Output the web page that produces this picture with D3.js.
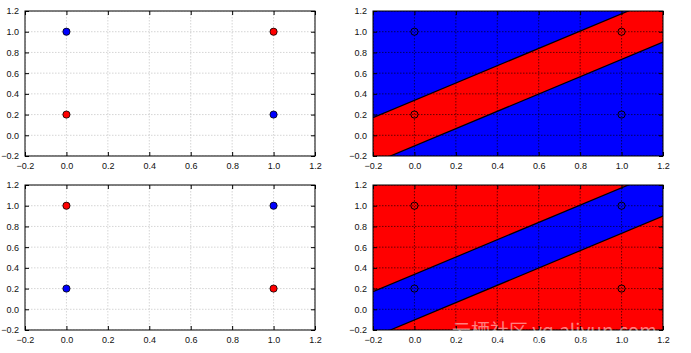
<!DOCTYPE html>
<html>
<head>
<meta charset="utf-8">
<script src="https://cdn.jsdelivr.net/npm/d3@7"></script>
<style>
  body { margin: 0; background: #fff; }
  svg { display: block; font-family: "DejaVu Sans", sans-serif; }
  .tick text { font-size: 9px; fill: #111; }
</style>
</head>
<body>
<svg width="691" height="353"></svg>
<script>
(() => {
    // points (x, y) and their class for each row
    const pointX = [0, 0, 1, 1];
    const pointY = [1.0, 0.2, 1.0, 0.2];
    const classesTop = ['blue', 'red', 'red', 'blue'];
    const classesBottom = ['red', 'blue', 'blue', 'red'];
    const tickValues = [-0.2, 0.0, 0.2, 0.4, 0.6, 0.8, 1.0, 1.2];
    // decision boundary lines y = slope * x + intercept
    const boundarySlope = [0.836, 0.836];
    const boundaryIntercept = [0.337, -0.103];
    const bandColorTop = ['blue', 'red'];     // [outside, inside]
    const bandColorBottom = ['red', 'blue'];

    const svg = d3.select("svg");
    const panels = [
      {left: 25, top: 11, cls: classesTop, band: null},
      {left: 373, top: 11, cls: null, band: bandColorTop},
      {left: 25, top: 185, cls: classesBottom, band: null},
      {left: 373, top: 185, cls: null, band: bandColorBottom}
    ];
    const w = 290, h = 145;

    panels.forEach((p, i) => {
      const x = d3.scaleLinear().domain([-0.2, 1.2]).range([0, w]);
      const y = d3.scaleLinear().domain([-0.2, 1.2]).range([h, 0]);
      const g = svg.append("g").attr("transform", "translate(" + p.left + "," + p.top + ")");
      const clipId = "clip" + i;
      g.append("clipPath").attr("id", clipId).append("rect").attr("width", w).attr("height", h);

      if (p.band) {
        g.append("rect").attr("width", w).attr("height", h).attr("fill", p.band[0]);
        const x0 = -0.2, x1 = 1.2;
        const line = (k, xv) => boundarySlope[k] * xv + boundaryIntercept[k];
        const poly = [[x0, line(0, x0)], [x1, line(0, x1)], [x1, line(1, x1)], [x0, line(1, x0)]];
        g.append("path")
          .attr("clip-path", "url(#" + clipId + ")")
          .attr("d", "M" + poly.map(d => x(d[0]) + "," + y(d[1])).join("L") + "Z")
          .attr("fill", p.band[1]);
        [0, 1].forEach(k => {
          g.append("line")
            .attr("clip-path", "url(#" + clipId + ")")
            .attr("x1", x(x0)).attr("y1", y(line(k, x0)))
            .attr("x2", x(x1)).attr("y2", y(line(k, x1)))
            .attr("stroke", "#000").attr("stroke-width", 1.2);
        });
      }

      // grid
      const gridColor = p.band ? "#000" : "#b8b8b8";
      const grid = g.append("g").attr("clip-path", "url(#" + clipId + ")");
      tickValues.forEach(t => {
        grid.append("line").attr("x1", x(t)).attr("x2", x(t)).attr("y1", 0).attr("y2", h)
          .attr("stroke", gridColor).attr("stroke-width", 0.6).attr("stroke-dasharray", "1.5,1.5");
        grid.append("line").attr("y1", y(t)).attr("y2", y(t)).attr("x1", 0).attr("x2", w)
          .attr("stroke", gridColor).attr("stroke-width", 0.6).attr("stroke-dasharray", "1.5,1.5");
      });

      // points
      g.selectAll(".pt")
        .data(pointX.map((d, j) => ({x: d, y: pointY[j], c: p.cls ? p.cls[j] : "none"})))
        .enter().append("circle")
          .attr("class", "pt")
          .attr("cx", d => x(d.x))
          .attr("cy", d => y(d.y))
          .attr("r", 3.6)
          .attr("fill", d => d.c)
          .attr("stroke", "#000")
          .attr("stroke-width", p.cls ? 0.8 : 1);

      // axes with inward ticks
      const fmt = d3.format(".1f");
      const fmtMinus = v => fmt(v).replace("-", "\u2212");
      g.append("g").attr("transform", "translate(0," + h + ")")
        .call(d3.axisBottom(x).tickValues(tickValues).tickFormat(fmtMinus).tickSizeInner(-4).tickSizeOuter(0).tickPadding(7))
        .call(a => a.select(".domain").remove());
      g.append("g")
        .call(d3.axisLeft(y).tickValues(tickValues).tickFormat(fmtMinus).tickSizeInner(-4).tickSizeOuter(0).tickPadding(6))
        .call(a => a.select(".domain").remove());
      g.append("g").attr("transform", "translate(" + w + ",0)")
        .call(d3.axisRight(y).tickValues(tickValues).tickFormat("").tickSizeInner(-4).tickSizeOuter(0))
        .call(a => a.select(".domain").remove());
      g.append("g")
        .call(d3.axisTop(x).tickValues(tickValues).tickFormat("").tickSizeInner(-4).tickSizeOuter(0))
        .call(a => a.select(".domain").remove());
      g.selectAll(".tick line").attr("stroke", "#000");

      g.append("rect").attr("width", w).attr("height", h)
        .attr("fill", "none").attr("stroke", "#000").attr("stroke-width", 1);
    });

    // watermark
    svg.append("text")
      .attr("x", 452).attr("y", 338)
      .attr("font-family", "'Noto Sans CJK SC', sans-serif")
      .attr("font-size", 19)
      .attr("fill", "#fff").attr("fill-opacity", 0.5)
      .text("云栖社区 yq.aliyun.com");
})();
</script>
</body>
</html>
